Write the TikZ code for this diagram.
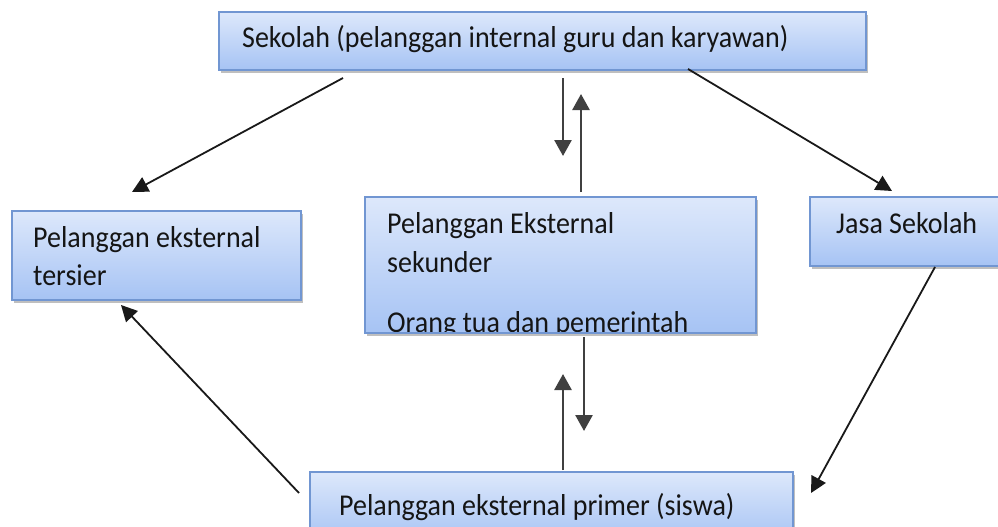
\documentclass[tikz,border=0pt]{standalone}
\usepackage{fontspec}
\setmainfont{Carlito}
\usetikzlibrary{arrows.meta,shadows}
\definecolor{boxtop}{HTML}{DDE8FB}
\definecolor{boxbot}{HTML}{A6C3F4}
\definecolor{boxline}{HTML}{7196D2}
\definecolor{txt}{HTML}{151515}
\tikzset{
  box/.style={draw=boxline, line width=1.2pt, top color=boxtop, bottom color=boxbot,
    drop shadow={shadow xshift=2pt, shadow yshift=-3pt, fill=black, opacity=0.25},
    inner sep=0pt, outer sep=0pt, anchor=north west},
  lbl/.style={anchor=base west, inner sep=0pt, font=\fontsize{28}{34}\selectfont, text=txt, yscale=1.08},
  arr/.style={line width=1.8pt, draw=black!90, -{Triangle[length=16pt,width=16pt]}},
  varr/.style={line width=2.6pt, draw=black!75, -{Triangle[length=16pt,width=17pt]}}
}
\begin{document}
\begin{tikzpicture}[x=1pt,y=-1pt]
\clip (0,0) rectangle (998,527);
\fill[white] (0,0) rectangle (998,527);
% boxes
\node[box, minimum width=647pt, minimum height=58pt] (top) at (219,12) {};
\node[box, minimum width=289pt, minimum height=89pt] (ter) at (12,211) {};
\node[box, minimum width=391pt, minimum height=136pt] (mid) at (365,197) {};
\node[box, minimum width=200pt, minimum height=69pt] (jasa) at (810,197) {};
\node[box, minimum width=483pt, minimum height=70pt] (prim) at (310,472) {};
% texts
\node[lbl] (topt) at (242,48) {Sekolah (pelanggan internal guru dan karyawan)};
\node[lbl] (tert1) at (33,247) {Pelanggan eksternal};
\node[lbl] (tert2) at (33,285) {tersier};
\node[lbl] (midt1) at (387,233) {Pelanggan Eksternal};
\node[lbl] (midt2) at (387,272) {sekunder};
\begin{scope}
\clip (mid.north west) rectangle (mid.south east);
\node[lbl] (midt3) at (387,332) {Orang tua dan pemerintah};
\end{scope}
\draw[boxline, line width=1.2pt] (mid.south west) -- (mid.south east);
\node[lbl] (jasat) at (836,233) {Jasa Sekolah};
\node[lbl] (primt) at (339,515) {Pelanggan eksternal primer (siswa)};
% connector end points
\coordinate (a1) at (343,78);  \coordinate (a2) at (132,192);
\coordinate (b1) at (688,69);  \coordinate (b2) at (892,191);
\coordinate (c1) at (935,267); \coordinate (c2) at (811,493);
\coordinate (d1) at (299,493); \coordinate (d2) at (121,305);
\coordinate (e1) at (563,78);  \coordinate (e2) at (563,156);
\coordinate (f1) at (581,192); \coordinate (f2) at (581,94);
\coordinate (g1) at (584,337); \coordinate (g2) at (584,431);
\coordinate (h1) at (563,470); \coordinate (h2) at (563,374);
% connectors
\draw[arr] (a1) -- (a2);
\draw[arr] (b1) -- (b2);
\draw[arr] (c1) -- (c2);
\draw[arr] (d1) -- (d2);
\draw[varr] (e1) -- (e2);
\draw[varr] (f1) -- (f2);
\draw[varr] (g1) -- (g2);
\draw[varr] (h1) -- (h2);
\end{tikzpicture}
\end{document}
